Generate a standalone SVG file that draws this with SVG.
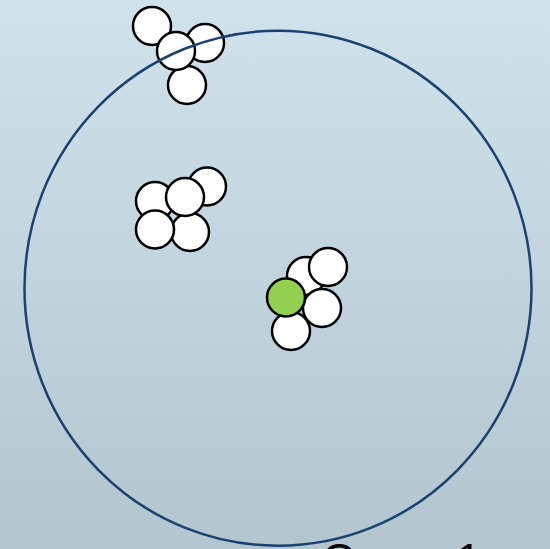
<svg xmlns="http://www.w3.org/2000/svg" width="550" height="549" viewBox="0 0 550 549">
<defs>
<linearGradient id="bg" x1="0" y1="0" x2="0" y2="1">
<stop offset="0" stop-color="#d0e3ed"/>
<stop offset="1" stop-color="#b3c6cf"/>
</linearGradient>
<style>
.n{fill:#ffffff;stroke:#000000;stroke-width:2.5}
.g{fill:#92d050;stroke:#000000;stroke-width:2.5}
.ring{fill:none;stroke:#1b4170;stroke-width:2.5}
.lbl{font-family:"Liberation Sans",Arial,sans-serif;font-size:44px;fill:#000000}
</style>
</defs>
<rect x="0" y="0" width="550" height="549" fill="url(#bg)"/>
<g id="cluster-top">
<circle class="n" cx="152" cy="26" r="19"/>
<circle class="n" cx="205" cy="43" r="19"/>
<circle class="n" cx="187" cy="85" r="19"/>
<circle class="n" cx="176" cy="51" r="19"/>
</g>
<g id="cluster-middle">
<circle class="n" cx="207" cy="186.5" r="19"/>
<circle class="n" cx="155" cy="201" r="19"/>
<circle class="n" cx="190" cy="232" r="19"/>
<circle class="n" cx="155" cy="229.5" r="19"/>
<circle class="n" cx="185" cy="197" r="19"/>
</g>
<g id="cluster-center">
<circle class="n" cx="306" cy="276" r="19"/>
<circle class="n" cx="328" cy="267" r="19"/>
<circle class="n" cx="322" cy="308" r="19"/>
<circle class="n" cx="291" cy="331" r="19"/>
<circle class="g" cx="286" cy="297.5" r="19"/>
</g>
<g id="boundary">
<ellipse class="ring" cx="278" cy="288.2" rx="253.5" ry="257.5"/>
</g>
<text class="lbl" x="322" y="575">Group 1</text>
</svg>
